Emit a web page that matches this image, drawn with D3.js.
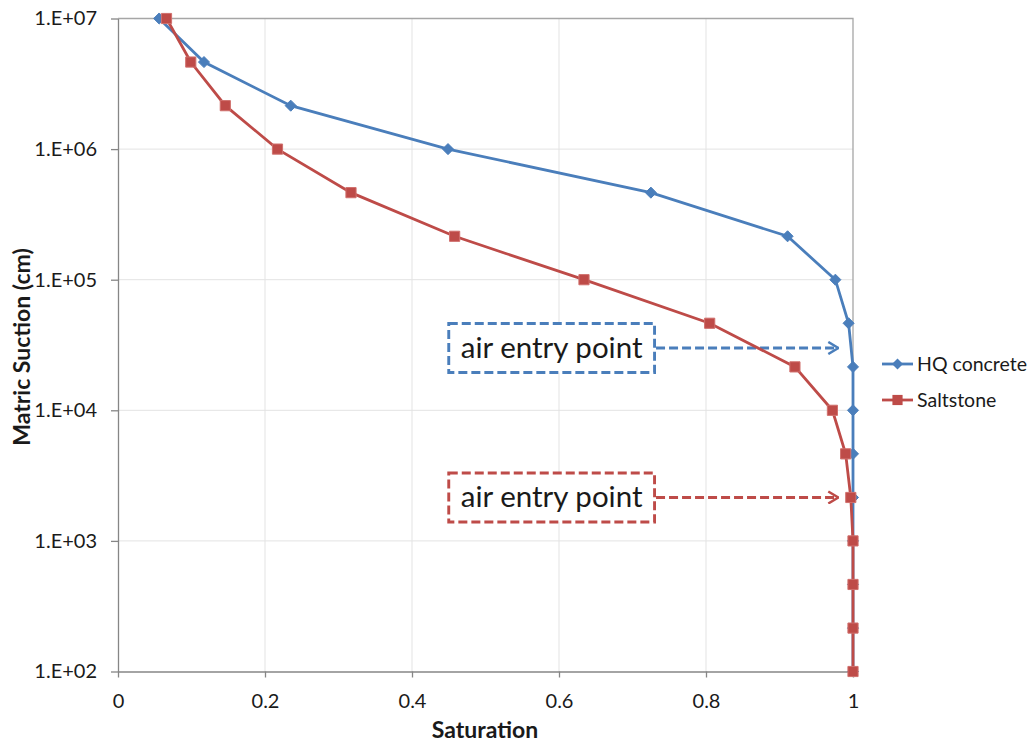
<!DOCTYPE html>
<meta charset='utf-8'>
<style>
body { margin: 0; background: #fff; }
svg text { font-family: Lato, 'Liberation Sans', sans-serif; fill: #1a1a1a; }
.axis path, .axis line { stroke: #868686; stroke-width: 1.3; }
.axis text { font-size: 20px; }
.title { font-size: 23px; font-weight: bold; }
.legend text { font-size: 19.5px; }
.note text { font-size: 29.5px; }
</style>
<script src='https://d3js.org/d3.v7.min.js'></script>
<body>
<script>
'use strict'

// Data - matric suction (cm) vs saturation

let suction = [1e7, 4.64e6, 2.15e6, 1e6, 4.64e5, 2.15e5, 1e5, 4.64e4, 2.15e4, 1e4,
		4.64e3, 2.15e3, 1e3, 4.64e2, 2.15e2, 1e2],
	sat_hq = [0.056, 0.117, 0.235, 0.449, 0.725, 0.911, 0.976, 0.994, 1.0, 1.0,
		1.0, 1.0, 1.0, 1.0, 1.0, 1.0],
	sat_salt = [0.066, 0.099, 0.146, 0.217, 0.317, 0.458, 0.634, 0.805, 0.921, 0.972,
		0.990, 0.997, 1.0, 1.0, 1.0, 1.0],
	series_names = ['HQ concrete', 'Saltstone'],
	series_colors = ['#4a7ebb', '#be4b48'],
	x_ticks = [0, 0.2, 0.4, 0.6, 0.8, 1],
	y_ticks = [1e2, 1e3, 1e4, 1e5, 1e6, 1e7],
	// annotations: box span in saturation, arrow target [saturation, suction]
	note_text = 'air entry point',
	note_box = [0.45, 0.73],
	note_targets = [[0.98, 3.0e4], [0.98, 2.15e3]]

let width = 1030, height = 745,
	plot = {left: 118, right: 853, top: 18.5, bottom: 671.5}

let svg = d3.select('body').append('svg')
	.attr('width', width).attr('height', height)

let x = d3.scaleLinear([0, 1], [plot.left, plot.right]),
	y = d3.scaleLog([1e2, 1e7], [plot.bottom, plot.top])

// Grid
let grid = svg.append('g')
grid.selectAll('line.v').data(x_ticks.slice(1, -1)).join('line')
	.attr('x1', d => x(d)).attr('x2', d => x(d))
	.attr('y1', plot.top).attr('y2', plot.bottom)
	.attr('stroke', '#e3e3e3').attr('stroke-width', 1)
grid.selectAll('line.h').data(y_ticks.slice(1, -1)).join('line')
	.attr('x1', plot.left).attr('x2', plot.right)
	.attr('y1', d => y(d)).attr('y2', d => y(d))
	.attr('stroke', '#e3e3e3').attr('stroke-width', 1)
// top / right frame
grid.append('path')
	.attr('d', `M${plot.left},${y(1e7)}H${x(1)}V${plot.bottom}`)
	.attr('fill', 'none').attr('stroke', '#a6a6a6').attr('stroke-width', 1.3)

// Axes
svg.append('g').attr('class', 'axis')
	.attr('transform', `translate(0,${plot.bottom})`)
	.call(d3.axisBottom(x).tickValues(x_ticks).tickFormat(d3.format('')).tickSize(6).tickSizeOuter(0))
	.call(g => g.selectAll('text').attr('y', 29).attr('dy', '0.35em'))
svg.append('g').attr('class', 'axis')
	.attr('transform', `translate(${plot.left},0)`)
	.call(d3.axisLeft(y).tickValues(y_ticks)
		.tickFormat(d => `1.E+0${Math.round(Math.log10(d))}`).tickSize(7).tickSizeOuter(0))
	.call(g => g.selectAll('text').attr('x', -21))
svg.selectAll('.axis .domain').attr('stroke', '#868686')

svg.append('text').attr('class', 'title')
	.attr('x', 485).attr('y', 738)
	.attr('text-anchor', 'middle').text('Saturation')
svg.append('text').attr('class', 'title')
	.attr('transform', `translate(30,347) rotate(-90)`)
	.attr('text-anchor', 'middle').text('Matric Suction (cm)')

// Annotations
let defs = svg.append('defs')
series_colors.forEach((c, i) => defs.append('marker')
	.attr('id', `arr${i}`).attr('viewBox', '0 0 12 14')
	.attr('markerWidth', 12).attr('markerHeight', 14).attr('markerUnits', 'userSpaceOnUse')
	.attr('refX', 11).attr('refY', 7).attr('orient', 'auto')
	.append('path').attr('d', 'M1,1L11,7L1,13')
	.attr('fill', 'none').attr('stroke', c).attr('stroke-width', 2.5))

note_targets.forEach((t, i) => {
	let g = svg.append('g').attr('class', 'note'),
		cy = y(t[1]), c = series_colors[i]
	g.append('rect')
		.attr('x', x(note_box[0])).attr('y', cy - 24.5)
		.attr('width', x(note_box[1]) - x(note_box[0])).attr('height', 49)
		.attr('fill', '#fff').attr('stroke', c).attr('stroke-width', 2.9)
		.attr('stroke-dasharray', '9,4')
	g.append('text')
		.attr('x', (x(note_box[0]) + x(note_box[1])) / 2).attr('y', cy).attr('dy', '0.33em')
		.attr('text-anchor', 'middle').text(note_text)
	g.append('line')
		.attr('x1', x(note_box[1]) + 1.5).attr('x2', x(t[0]))
		.attr('y1', cy).attr('y2', cy)
		.attr('stroke', c).attr('stroke-width', 2.9).attr('stroke-dasharray', '9,4')
		.attr('marker-end', `url(#arr${i})`)
})

// Series
let diamond = d3.symbol(d3.symbolDiamond2, 78),
	square = d3.symbol(d3.symbolSquare2, 132),
	line = d3.line().x(d => x(d[0])).y(d => y(d[1]))

;[sat_hq, sat_salt].forEach((sat, i) => {
	let pts = sat.map((s, j) => [s, suction[j]]),
		g = svg.append('g'),
		c = series_colors[i]
	g.append('path').attr('d', line(pts))
		.attr('fill', 'none').attr('stroke', c).attr('stroke-width', 2.8)
	g.selectAll('path.m').data(pts).join('path')
		.attr('transform', d => `translate(${x(d[0])},${y(d[1])})`)
		.attr('d', i ? square : diamond)
		.attr('fill', c).attr('stroke', i ? '#d0706d' : '#4a7ebb').attr('stroke-width', 1)
})

// Legend
let legend = svg.append('g').attr('class', 'legend')
series_names.forEach((name, i) => {
	let g = legend.append('g').attr('transform', `translate(882,${364 + i * 36})`),
		c = series_colors[i]
	g.append('line').attr('x1', 0).attr('x2', 31)
		.attr('stroke', c).attr('stroke-width', 2.8)
	g.append('path').attr('transform', 'translate(15.5,0)')
		.attr('d', i ? square : diamond).attr('fill', c)
	g.append('text').attr('x', 35).attr('dy', '0.35em').text(name)
})
</script>
